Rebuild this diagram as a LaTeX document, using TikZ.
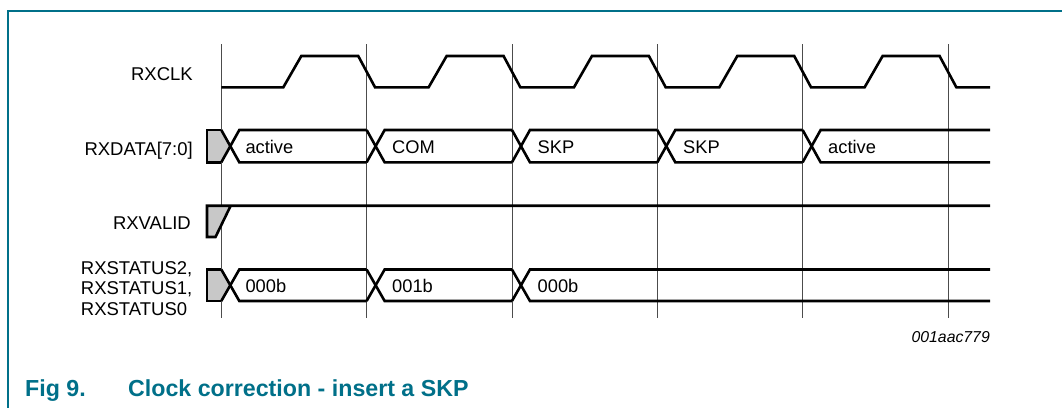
\documentclass[tikz,border=0pt]{standalone}
\usepackage{fontspec}
\setmainfont{Liberation Sans}
\definecolor{nxpteal}{RGB}{0,112,137}
\definecolor{greyfill}{RGB}{200,200,200}
\newcommand{\mybusseg}[4]{%
  \draw[sig] (#1,#4) -- ({#1+18},#3) -- (#2,#3);
  \draw[sig] (#1,#3) -- ({#1+18},#4) -- (#2,#4);
}
\begin{document}
\begin{tikzpicture}[x=1pt,y=-1pt,
  sig/.style={line width=2.6pt, line join=miter},
  gridline/.style={line width=0.9pt, black!70},
  lbl/.style={font=\fontsize{18.5}{20.8}\selectfont, inner sep=0pt},
  val/.style={font=\fontsize{18.3}{20.8}\selectfont, inner sep=0pt, anchor=base west},
  captxt/.style={font=\fontsize{23.2}{26}\selectfont\bfseries, text=nxpteal, inner sep=0pt, anchor=base west}]
\useasboundingbox (0,0) rectangle (1062,408);
\fill[white] (0,0) rectangle (1062,408);
% frame
\draw[nxpteal, line width=2pt] (1062,11) -- (8,11) -- (8,408);
% grid
\foreach \i in {0,...,5}
  \draw[gridline] ({221.3+145.33*\i},44) -- ({221.3+145.33*\i},317.5);
% signal names
\node[lbl, anchor=base east] (nclk) at (193,80.7) {RXCLK};
\node[lbl, anchor=base east] (ndata) at (193,155) {RXDATA[7:0]};
\node[lbl, anchor=base east] (nvalid) at (191,229) {RXVALID};
\node[lbl, anchor=base west, align=left] (nstat) at (80.7,315.7)
  {RXSTATUS2,\\RXSTATUS1,\\RXSTATUS0};
% clock
\draw[sig] (221.3,87.3)
  \foreach \i in {0,...,4} {
    -- ({221.3+145.33*\i+62},87.3) -- ({221.3+145.33*\i+80},56)
    -- ({221.3+145.33*(\i+1)-8.4},56) -- ({221.3+145.33*(\i+1)+8.4},87.3)
  } -- (990,87.3);
% RXDATA
\fill[greyfill] (207,130) -- (221.3,130) -- (230.3,146.15) -- (221.3,162.3) -- (207,162.3) -- cycle;
\draw[sig] (221.3,130) -- (207,130) -- (207,162.3) -- (221.3,162.3);
\mybusseg{221.3}{366.63}{130}{162.3}
\mybusseg{366.63}{511.96}{130}{162.3}
\mybusseg{511.96}{657.29}{130}{162.3}
\mybusseg{657.29}{802.62}{130}{162.3}
\mybusseg{802.62}{990}{130}{162.3}
\node[val] (d1) at (245.3,153) {active};
\node[val] (d2) at (392,153) {COM};
\node[val] (d3) at (537.5,153) {SKP};
\node[val] (d4) at (683,153) {SKP};
\node[val] (d5) at (828,153) {active};
% RXVALID
\fill[greyfill] (207,205.7) -- (230.7,205.7) -- (215.5,237) -- (207,237) -- cycle;
\draw[sig] (990,205.7) -- (207,205.7) -- (207,237) -- (215.5,237) -- (230.7,205.7);
% RXSTATUS
\fill[greyfill] (207,269.5) -- (221.3,269.5) -- (230.3,285.25) -- (221.3,301) -- (207,301) -- cycle;
\draw[sig] (221.3,269.5) -- (207,269.5) -- (207,301) -- (221.3,301);
\mybusseg{221.3}{366.63}{269.5}{301}
\mybusseg{366.63}{511.96}{269.5}{301}
\mybusseg{511.96}{990}{269.5}{301}
\node[val] (s1) at (245.3,292.3) {000b};
\node[val] (s2) at (392,292.3) {001b};
\node[val] (s3) at (537.5,292.3) {000b};
% figure id
\node[font=\fontsize{15.8}{18}\selectfont\itshape, inner sep=0pt, anchor=base east] (fid) at (990,342) {001aac779};
% caption
\node[captxt] (capa) at (25,396.7) {Fig 9.};
\node[captxt] (capb) at (128,396.7) {Clock correction - insert a SKP};
\end{tikzpicture}
\end{document}
